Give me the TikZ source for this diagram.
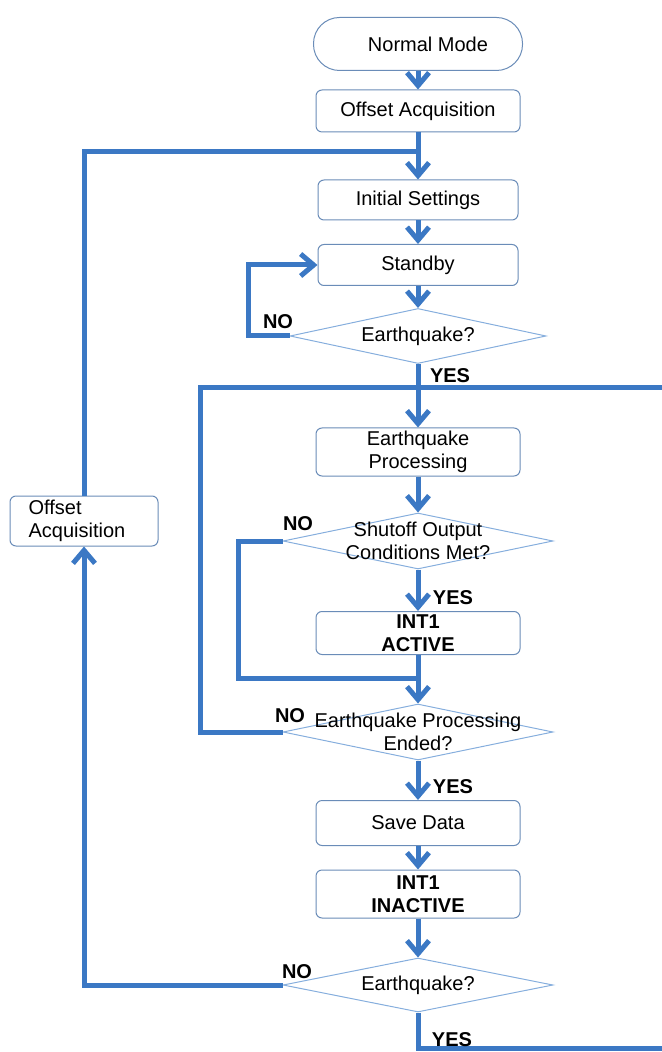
\documentclass[tikz,border=0pt]{standalone}
\usepackage{fontspec}
\setmainfont{Liberation Sans}
\usepackage{xcolor}
\usetikzlibrary{positioning, arrows.meta, shapes.geometric, calc}
\definecolor{fBlue}{HTML}{3B78C4}
\definecolor{fEdge}{HTML}{6A8CB8}
\definecolor{fDiam}{HTML}{86AEDD}

\begin{document}
\begin{tikzpicture}[
  x=0.5pt, y=-0.5pt,
  every node/.style={font=\fontsize{10}{11.5}\selectfont},
  card/.style={draw=fEdge, line width=0.5pt, rounded corners=3pt, fill=white,
               minimum width=102pt, minimum height=21pt, inner sep=0pt, align=center},
  term/.style={card, rounded corners=13pt, minimum width=104.5pt, minimum height=26.5pt},
  decision/.style={draw=fDiam, line width=0.5pt, diamond, inner sep=0pt,
                   minimum width=135pt, minimum height=28pt},
  tag/.style={font=\fontsize{10}{11.5}\selectfont\bfseries, inner sep=0pt},
  line/.style={draw=fBlue, line width=2.5pt},
  flow/.style={line, -{Straight Barb[length=6.5pt, width=11pt]}},
]
  \useasboundingbox (0,0) rectangle (661,1052);

  % main column
  \node[term] (normal) at (418,44) {\hspace{10pt}Normal Mode};
  \node[card] (offset1) at (418,111) {Offset Acquisition};
  \node[card, minimum width=100pt, minimum height=20pt] (init) at (418,200) {Initial Settings};
  \node[card, minimum width=100pt, minimum height=20.5pt] (standby) at (418,265) {Standby};
  \node[decision, minimum width=128pt, minimum height=27.5pt,
        label={center:Earthquake?}] (eq1) at (418,336) {};
  \node[card, minimum height=24pt] (proc) at (418,452) {Earthquake\\Processing};
  \node[decision, label={[align=center]center:Shutoff Output\\Conditions Met?}] (shut) at (418,541) {};
  \node[card, minimum height=21.5pt, font=\fontsize{10}{11.5}\selectfont\bfseries] (act) at (418,633) {INT1\\ACTIVE};
  \node[decision, label={[align=center]center:Earthquake Processing\\Ended?}] (ended) at (418,732) {};
  \node[card, minimum height=22.5pt] (save) at (418,823) {Save Data};
  \node[card, minimum height=24pt, font=\fontsize{10}{11.5}\selectfont\bfseries] (inact) at (418,894) {INT1\\INACTIVE};
  \node[decision, minimum height=27pt, label={center:Earthquake?}] (eq2) at (418,985) {};

  % side box
  \node[card, minimum width=74pt, minimum height=25pt, align=left] (offset2) at (84,521)
    {\hspace{-7pt}Offset\\\hspace{-7pt}Acquisition};

  % joints
  \coordinate (j1) at (418,152);
  \coordinate (j2) at (418,388);
  \coordinate (j3) at (418,678);
  \coordinate (n1) at (248,336);
  \coordinate (n2) at (238,541);
  \coordinate (lt) at (200,388);
  \coordinate (rt) at (666,388);
  \coordinate (rb) at (666,1048);

  % connectors
  \draw[flow] (normal) -- (offset1);
  \draw[flow] (offset1) -- (init);
  \draw[line] (offset2.north) |- (j1);
  \draw[flow] (init) -- (standby);
  \draw[flow] (standby) -- (eq1);
  \draw[flow] (eq1.west) -- (n1) |- (standby.west);
  \draw[flow] (eq1.south) -- (proc.north);
  \draw[flow] (proc) -- (shut);
  \draw[flow] (shut.south) -- (act.north);
  \draw[line] (shut.west) -- (n2) |- (j3);
  \draw[flow] (act.south) -- (ended.north);
  \draw[line] (ended.west) -| (lt) -- (j2);
  \draw[flow] (ended.south) -- (save.north);
  \draw[flow] (save) -- (inact);
  \draw[flow] (inact.south) -- (eq2.north);
  \draw[flow] (eq2.west) -| (offset2.south);
  \draw[line] (eq2.south) |- (rb) -- (rt) -- (j2);

  % branch tags
  \node[tag] (no1) at (278,322) {NO};
  \node[tag] (yes1) at (450,376) {YES};
  \node[tag] (no2) at (298,524) {NO};
  \node[tag] (yes2) at (453,598) {YES};
  \node[tag] (no3) at (290,716) {NO};
  \node[tag] (yes3) at (453,787) {YES};
  \node[tag] (no4) at (297,972) {NO};
  \node[tag] (yes4) at (452,1040) {YES};
\end{tikzpicture}
\end{document}
